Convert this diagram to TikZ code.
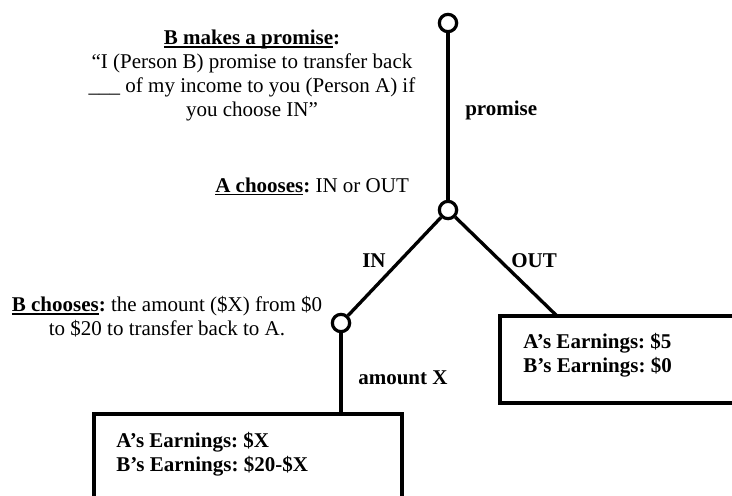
\documentclass[tikz,border=0pt]{standalone}
\usepackage{fontspec}
\setmainfont{Liberation Serif}
\usepackage{tikz}
\newsavebox\ulbox
\newcommand{\headul}[1]{\sbox\ulbox{#1}\rlap{\rule[-2.6pt]{\wd\ulbox}{1.3pt}}\usebox\ulbox}

\begin{document}
\frenchspacing
\fontsize{15.75}{18}\selectfont
\begin{tikzpicture}[x=0.75pt,y=0.75pt,yscale=-1,xscale=1,
        every node/.style={inner sep=0pt},
        choice/.style={circle, draw, line width=2.4pt, minimum size=13pt, fill=white},
        branch/.style={line width=2.5pt},
        payoff/.style={draw, line width=2.5pt, outer sep=0pt, anchor=north west},
        movelabel/.style={font=\bfseries}]
        \clip (0,0) rectangle (732,496);

        %Shape: Circle [id:root]
        \node [choice] (root) at (448,23) {};
        %Shape: Circle [id:achoice]
        \node [choice] (achoice) at (448,210) {};
        %Shape: Circle [id:bchoice]
        \node [choice] (bchoice) at (341,323) {};

        %Shape: Rectangle [id:outpay]
        \node [payoff, minimum width=195pt, minimum height=65.25pt] (outpay) at (500,316) {};
        %Shape: Rectangle [id:inpay]
        \node [payoff, minimum width=231pt, minimum height=79.5pt] (inpay) at (94,414) {};
        \coordinate (outend) at (557,316);

        %Straight Lines
        \draw [branch] (root) -- (achoice);
        \draw [branch] (achoice) -- (bchoice);
        \draw [branch] (achoice) -- (outend);
        \draw [branch] (bchoice) -- (bchoice |- inpay.north);

        % Text Node
        \node [anchor=north, align=center] (promisetext) at (252,29.5) {\textbf{\headul{B makes a promise}:}\\“I (Person B) promise to transfer back\\\_\_\_ of my income to you (Person A) if\\you choose IN”};
        % Text Node
        \node [anchor=base west] (atext) at (215,192) {\textbf{\headul{A chooses}:} IN or OUT};
        % Text Node
        \node [anchor=north, align=center] (btext) at (167,296) {\textbf{\headul{B chooses}:} the amount (\$X) from \$0\\to \$20 to transfer back to A.};

        % Text Node
        \node [movelabel, anchor=base west] (promiselabel) at (465,115) {promise};
        % Text Node
        \node [movelabel, anchor=base west] (inlabel) at (362,267) {IN};
        % Text Node
        \node [movelabel, anchor=base west] (outlabel) at (511,267) {OUT};
        % Text Node
        \node [movelabel, anchor=base west] (amountlabel) at (358,384) {amount X};

        % Text Node
        \node [movelabel, anchor=north west, align=left] (outtext) at (523,333) {A’s Earnings: \$5\\B’s Earnings: \$0};
        % Text Node
        \node [movelabel, anchor=north west, align=left] (intext) at (116,432) {A’s Earnings: \$X\\B’s Earnings: \$20-\$X};

\end{tikzpicture}
\end{document}
